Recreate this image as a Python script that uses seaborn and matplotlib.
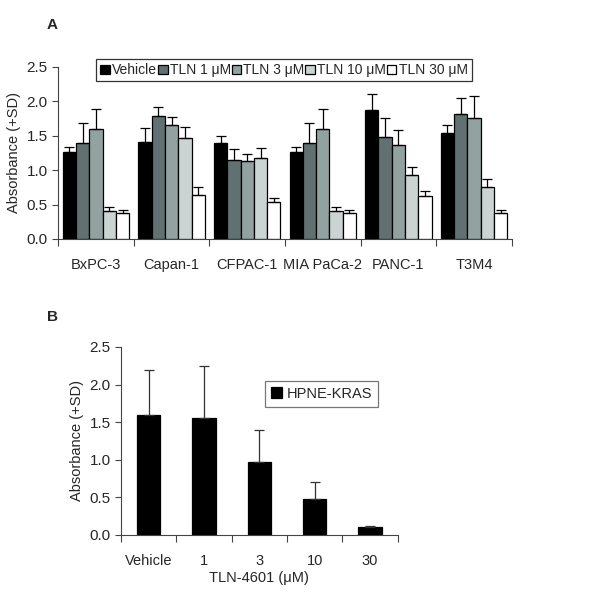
import numpy as np
import pandas as pd
import matplotlib
matplotlib.use("Agg")
import matplotlib.pyplot as plt
import seaborn as sns

# panel A data
cell_lines = ["BxPC-3", "Capan-1", "CFPAC-1", "MIA PaCa-2", "PANC-1", "T3M4"]
doses = ["Vehicle", "TLN 1 μM", "TLN 3 μM", "TLN 10 μM", "TLN 30 μM"]
mean_a = [
    [1.27, 1.39, 1.60, 0.41, 0.38],
    [1.41, 1.78, 1.65, 1.46, 0.64],
    [1.39, 1.15, 1.13, 1.17, 0.53],
    [1.27, 1.39, 1.60, 0.41, 0.38],
    [1.87, 1.48, 1.36, 0.93, 0.62],
    [1.54, 1.82, 1.76, 0.75, 0.38],
]
sd_a = [
    [0.07, 0.29, 0.29, 0.06, 0.04],
    [0.20, 0.13, 0.12, 0.17, 0.11],
    [0.11, 0.15, 0.11, 0.15, 0.06],
    [0.07, 0.29, 0.29, 0.06, 0.04],
    [0.24, 0.27, 0.22, 0.12, 0.07],
    [0.12, 0.23, 0.31, 0.12, 0.04],
]
colors_a = ["#000000", "#5e7474", "#8fa5a3", "#c9d5d5", "#ffffff"]

# panel B data
conc_b = ["Vehicle", "1", "3", "10", "30"]
mean_b = [1.59, 1.55, 0.97, 0.48, 0.10]
sd_b = [0.61, 0.70, 0.43, 0.23, 0.02]

sns.set_style("ticks")
plt.rcParams["font.family"] = ["Liberation Sans", "DejaVu Sans"]
plt.rcParams["font.size"] = 10.5


def style_axis(ax, n):
    ax.set_ylim(0, 2.5)
    ax.set_yticks(np.arange(0, 2.51, 0.5))
    ax.set_yticklabels([f"{v:.1f}" for v in np.arange(0, 2.51, 0.5)])
    ax.set_xlim(-0.5, n - 0.5)
    # tick marks at group boundaries, labels at centres
    ax.set_xticks(np.arange(-0.5, n, 1.0))
    ax.set_xticklabels([])
    ax.tick_params(axis="x", which="major", length=5, width=0.8, color="#444444", direction="out")
    ax.tick_params(axis="y", length=4, width=0.8, color="#444444", labelsize=11)
    ax.set_xticks(np.arange(n), minor=True)
    ax.tick_params(axis="x", which="minor", length=0, pad=14, labelsize=10.5)
    for s in ["top", "right"]:
        ax.spines[s].set_visible(False)
    for s in ["left", "bottom"]:
        ax.spines[s].set_color("#444444")
        ax.spines[s].set_linewidth(0.8)
    ax.set_ylabel("Absorbance (+SD)", fontsize=10.5)


fig = plt.figure(figsize=(6, 6.02), dpi=100)

# ---- panel A
df_a = pd.DataFrame(
    [(c, d, mean_a[i][j], sd_a[i][j]) for i, c in enumerate(cell_lines) for j, d in enumerate(doses)],
    columns=["line", "dose", "value", "sd"],
)
ax1 = fig.add_axes([0.097, 0.603, 0.756, 0.286])
sns.barplot(data=df_a, x="line", y="value", hue="dose", hue_order=doses, order=cell_lines,
            palette=colors_a, edgecolor="black", linewidth=0.9, width=0.88, errorbar=None,
            ax=ax1)
bars_a = list(ax1.containers)
for k, cont in enumerate(bars_a):
    xs = [p.get_x() + p.get_width() / 2 for p in cont.patches]
    ys = [p.get_height() for p in cont.patches]
    sds = df_a[df_a["dose"] == doses[k]].set_index("line").loc[cell_lines, "sd"].values
    ax1.errorbar(xs, ys, yerr=[np.zeros(len(sds)), sds], fmt="none", ecolor="black",
                 elinewidth=0.9, capsize=3.5, capthick=0.9)
style_axis(ax1, len(cell_lines))
ax1.set_xticklabels(cell_lines, minor=True)
ax1.set_xlabel("")
leg = ax1.legend(loc="upper left", bbox_to_anchor=(0.084, 1.045), ncol=5, frameon=True,
                 fancybox=False, edgecolor="black", handlelength=0.7, handleheight=0.7,
                 handletextpad=0.15, columnspacing=0.05, borderpad=0.3, fontsize=10,
                 borderaxespad=0)
leg.get_frame().set_linewidth(0.9)

# ---- panel B
df_b = pd.DataFrame({"conc": conc_b, "value": mean_b, "sd": sd_b, "group": "HPNE-KRAS"})
ax2 = fig.add_axes([0.2017, 0.1113, 0.4613, 0.3123])
sns.barplot(data=df_b, x="conc", y="value", hue="group", palette=["black"],
            edgecolor="black", linewidth=0.9, width=0.42, errorbar=None, ax=ax2)
bars_b = list(ax2.containers)
for cont in bars_b:
    xs = [p.get_x() + p.get_width() / 2 for p in cont.patches]
    ys = [p.get_height() for p in cont.patches]
    ax2.errorbar(xs, ys, yerr=[np.zeros(len(sd_b)), sd_b], fmt="none", ecolor="#333333",
                 elinewidth=0.9, capsize=3.5, capthick=0.9)
style_axis(ax2, len(conc_b))
ax2.set_xticklabels(conc_b, minor=True)
ax2.set_xlabel("TLN-4601 (μM)", fontsize=10.5, labelpad=2)
leg2 = ax2.legend(loc="upper left", bbox_to_anchor=(0.52, 0.82), frameon=True, fancybox=False,
                  edgecolor="#555555", handlelength=0.8, handleheight=0.8, handletextpad=0.3,
                  borderpad=0.4, fontsize=10.5, borderaxespad=0)
leg2.get_frame().set_linewidth(0.9)

fig.text(0.087, 0.958, "A", fontsize=11, fontweight="bold", ha="center", va="center")
fig.text(0.087, 0.473, "B", fontsize=11, fontweight="bold", ha="center", va="center")

fig.savefig("out.png", dpi=100, facecolor="white")
